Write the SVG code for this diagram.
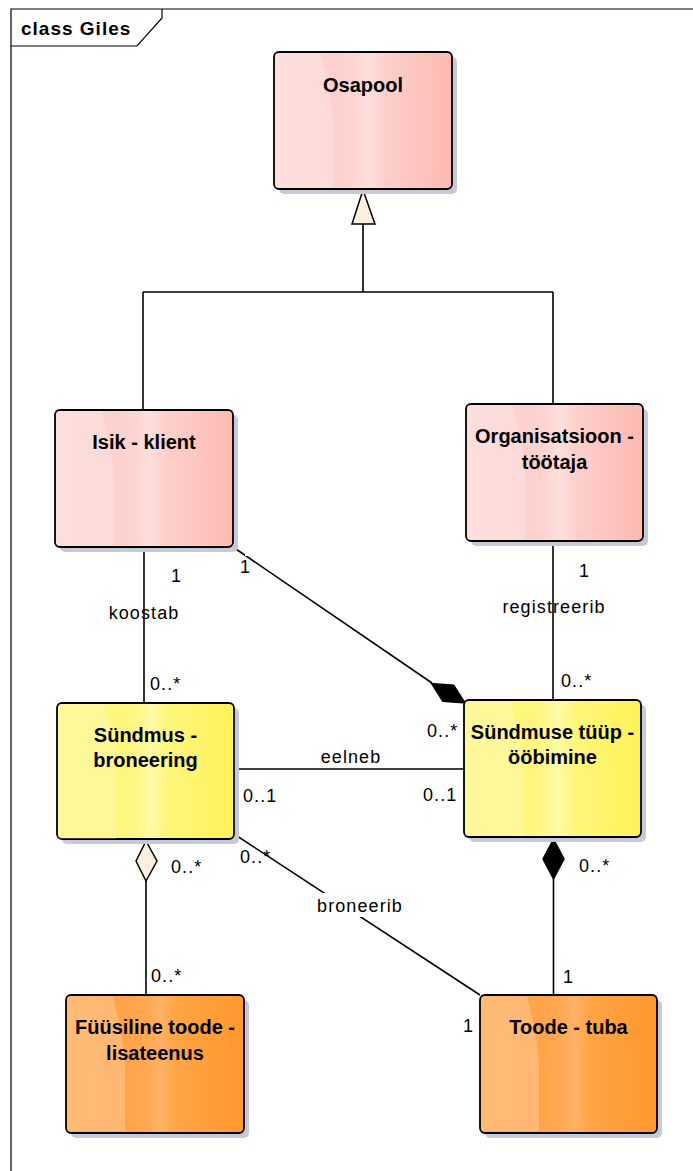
<svg xmlns="http://www.w3.org/2000/svg" width="693" height="1171" viewBox="0 0 693 1171">
  <style>
    .frame { fill: none; stroke: #000; stroke-width: 1.2; }
    .box { stroke: #000; stroke-width: 1.8; }
    .shadow { fill: #c6cad8; }
    .title { font-family: "Liberation Sans", Arial, sans-serif; font-weight: bold; font-size: 20px; fill: #000; text-anchor: middle; }
    .frame-title { font-family: "Liberation Sans", Arial, sans-serif; font-weight: bold; font-size: 19px; letter-spacing: 1px; fill: #000; }
    .lbl { font-family: "Liberation Sans", Arial, sans-serif; font-size: 18px; letter-spacing: 1.1px; fill: #000; }
    .mid { text-anchor: middle; }
    .conn { fill: none; stroke: #000; stroke-width: 1.6; }
    .hollow { fill: #fbf0e0; stroke: #000; stroke-width: 1.5; }
    .solid { fill: #000; stroke: #000; stroke-width: 1.5; }
    .gap { fill: #fff; }
  </style>
  <defs>
    <linearGradient id="gPink" x1="0" y1="0" x2="1" y2="0">
      <stop offset="0" stop-color="#fcd6d4"/>
      <stop offset="0.35" stop-color="#fcd0cd"/>
      <stop offset="0.46" stop-color="#fdd5d2"/>
      <stop offset="0.53" stop-color="#fde0de"/>
      <stop offset="0.62" stop-color="#fdd0cc"/>
      <stop offset="1" stop-color="#ffb9b2"/>
    </linearGradient>
    <linearGradient id="gYellow" x1="0" y1="0" x2="1" y2="0">
      <stop offset="0" stop-color="#fff780"/>
      <stop offset="0.35" stop-color="#fff67c"/>
      <stop offset="0.46" stop-color="#fff788"/>
      <stop offset="0.53" stop-color="#fffaa8"/>
      <stop offset="0.62" stop-color="#fff67c"/>
      <stop offset="1" stop-color="#fff257"/>
    </linearGradient>
    <linearGradient id="gOrange" x1="0" y1="0" x2="1" y2="0">
      <stop offset="0" stop-color="#ffa84f"/>
      <stop offset="0.35" stop-color="#ffa44b"/>
      <stop offset="0.46" stop-color="#ffa853"/>
      <stop offset="0.53" stop-color="#ffb266"/>
      <stop offset="0.62" stop-color="#ffa445"/>
      <stop offset="1" stop-color="#ff982e"/>
    </linearGradient>
    <!-- soft highlight on the left part of every class box -->
    <path id="gloss" d="M4,1 H47 C52,22 58,45 59,70 V136 H4 Q1,136 1,132 V5 Q1,1 4,1 Z" fill="#fff" fill-opacity="0.22"/>
  </defs>

  <!-- diagram frame -->
  <g id="frame">
    <path class="frame" d="M11,1171 V9 H693"/>
    <path class="frame" d="M11,46 H137 L162,18 V9"/>
    <text class="frame-title" x="21" y="35">class Giles</text>
  </g>

  <!-- connectors -->
  <g id="connectors">
    <!-- generalization -->
    <path class="conn" d="M363,224 V292 M143,292 H553 M143,292 V410 M553,292 V404"/>
    <polygon class="hollow" points="363,190 352,224 375,224"/>
    <!-- koostab -->
    <path class="conn" d="M144,547 V703"/>
    <!-- composition Isik -> Sündmuse tüüp -->
    <path class="conn" d="M233,547 L432,683"/>
    <rect class="gap" x="245" y="548" width="10" height="8"/>
    <polygon class="solid" points="465,703 453.7,685.2 431.6,683.6 442.9,701.4"/>
    <!-- registreerib -->
    <path class="conn" d="M553,542 V700"/>
    <!-- eelneb -->
    <path class="conn" d="M234,769 H464"/>
    <!-- aggregation -->
    <path class="conn" d="M146,881 V995"/>
    <polygon class="hollow" points="146,841 136,861 146,881 157,861"/>
    <!-- broneerib -->
    <path class="conn" d="M234,834 L480,995"/>
    <rect class="gap" x="305" y="893" width="106" height="24"/>
    <!-- composition Sündmuse tüüp -> Toode -->
    <path class="conn" d="M553.5,879 V995"/>
    <polygon class="solid" points="553.5,839 543,859 553.5,879 564,859"/>

    <!-- association labels -->
    <text class="lbl" x="171" y="582">1</text>
    <text class="lbl mid" x="144" y="619">koostab</text>
    <text class="lbl" x="150" y="690">0..*</text>
    <text class="lbl" x="240" y="573">1</text>
    <text class="lbl" x="427" y="737">0..*</text>
    <text class="lbl" x="579" y="577">1</text>
    <text class="lbl mid" x="554" y="613">registreerib</text>
    <text class="lbl" x="561" y="687">0..*</text>
    <text class="lbl mid" x="351" y="763">eelneb</text>
    <text class="lbl" x="243" y="802">0..1</text>
    <text class="lbl" x="423" y="801">0..1</text>
    <text class="lbl" x="171" y="873">0..*</text>
    <text class="lbl" x="240" y="863">0..*</text>
    <text class="lbl mid" x="360" y="912">broneerib</text>
    <text class="lbl" x="151" y="982">0..*</text>
    <text class="lbl" x="463" y="1032">1</text>
    <text class="lbl" x="579" y="872">0..*</text>
    <text class="lbl" x="563" y="983">1</text>
  </g>

  <!-- classes -->
  <g id="osapool" transform="translate(274,52)">
    <rect class="shadow" x="5" y="5" width="178" height="137" rx="5"/>
    <rect class="box" width="178" height="137" rx="5" fill="url(#gPink)"/>
    <use href="#gloss"/>
    <text class="title" x="89" y="40">Osapool</text>
  </g>

  <g id="isik-klient" transform="translate(55,410)">
    <rect class="shadow" x="5" y="5" width="178" height="137" rx="5"/>
    <rect class="box" width="178" height="137" rx="5" fill="url(#gPink)"/>
    <use href="#gloss"/>
    <text class="title" x="89" y="39">Isik - klient</text>
  </g>

  <g id="organisatsioon-tootaja" transform="translate(466,404)">
    <rect class="shadow" x="5" y="5" width="177" height="137" rx="5"/>
    <rect class="box" width="177" height="137" rx="5" fill="url(#gPink)"/>
    <use href="#gloss"/>
    <text class="title" x="88.5" y="39">Organisatsioon -</text>
    <text class="title" x="88.5" y="65">töötaja</text>
  </g>

  <g id="sundmus-broneering" transform="translate(57,703)">
    <rect class="shadow" x="5" y="5" width="177" height="136" rx="5"/>
    <rect class="box" width="177" height="136" rx="5" fill="url(#gYellow)"/>
    <use href="#gloss"/>
    <text class="title" x="88.5" y="39">Sündmus -</text>
    <text class="title" x="88.5" y="64">broneering</text>
  </g>

  <g id="sundmuse-tyyp-oobimine" transform="translate(464,700)">
    <rect class="shadow" x="5" y="5" width="177" height="137" rx="5"/>
    <rect class="box" width="177" height="137" rx="5" fill="url(#gYellow)"/>
    <use href="#gloss"/>
    <text class="title" x="88.5" y="39">Sündmuse tüüp -</text>
    <text class="title" x="88.5" y="64">ööbimine</text>
  </g>

  <g id="fuusiline-toode-lisateenus" transform="translate(66,995)">
    <rect class="shadow" x="5" y="5" width="178" height="138" rx="5"/>
    <rect class="box" width="178" height="138" rx="5" fill="url(#gOrange)"/>
    <use href="#gloss"/>
    <text class="title" x="89" y="39">Füüsiline toode -</text>
    <text class="title" x="89" y="65">lisateenus</text>
  </g>

  <g id="toode-tuba" transform="translate(480,995)">
    <rect class="shadow" x="5" y="5" width="177" height="138" rx="5"/>
    <rect class="box" width="177" height="138" rx="5" fill="url(#gOrange)"/>
    <use href="#gloss"/>
    <text class="title" x="88.5" y="39">Toode - tuba</text>
  </g>
</svg>
